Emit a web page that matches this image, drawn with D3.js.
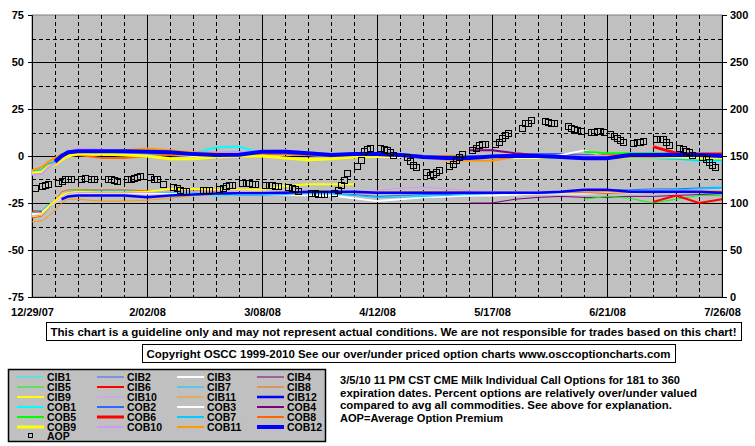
<!DOCTYPE html>
<html><head><meta charset="utf-8">
<script src="https://cdn.jsdelivr.net/npm/d3@7"></script>
<style>
body{margin:0;background:#fff}
svg text{font-family:"Liberation Sans",Arial,sans-serif;font-weight:bold;font-size:11px;fill:#000}
</style>
</head><body><svg id="c" width="755" height="446"></svg>
<script>
// ---------- DATA ----------
const startDate = new Date(2007, 11, 29);
const endDate = new Date(2008, 6, 26);
const xTickLabels = ["12/29/07","2/02/08","3/08/08","4/12/08","5/17/08","6/21/08","7/26/08"];
const leftTicks = [75,50,25,0,-25,-50,-75];
const rightTicks = [300,250,200,150,100,50,0];
// days after 12/29/07 at which the series below are sampled
const sampleDays = [0,3,5,7,9,11,14, 21,28,35,42,49,56,63, 70,77,84,91,98,105,112, 119,126,133,140,147,154,161, 168,175,182,189,196,203,210];
const n = null;
const CIB1 = [-30,-29,-26,-24,-21,-19,-18, -18,-18,-19,-19.5,-19,-21.5,-20.5, -20,-19.5,-19.5,-20,-21,-21.5,-21, -21,-20,-20,-19.5,-19.5,-19.5,-19.5, -19,-19,-18.5,-18.5,-18,-17,-16];
const CIB2 = [-31,-30,-27,-25,-22,-20,-19.5, -19.5,-19.5,-20,-20,-20,-20.5,-20.5, -20,-20,-20,-20,-20.5,-21.5,-21, -20.5,-20.5,-20,-20,-19.5,-19.5,-19, -18,-18,-18,-17.5,-17.5,-17,-17];
const CIB3 = [-31,-30,-27,-25,-22,-20,-19.5, -19.5,-19.5,-20,-20,-20,-20,-20.5, -20.5,-20.5,-21,-21,-22.5,-24,-23, -22,-21.5,-21,-21,-20.5,-20,-20, -20,-19.5,-19.5,-19,-19,-18.5,-18];
const CIB4 = [n,n,n,n,n,n,n, n,n,n,n,n,n,n, n,n,n,n,n,n,n, n,n,-25,-25,-23,-22,-21.5, -22,-22,-21.5,-21.5,-21,-20.5,-20];
const CIB5 = [n,n,n,n,n,n,n, n,n,n,n,n,n,n, n,n,n,n,n,n,n, n,n,n,n,n,n,n, -23,-21.5,-22.5,-25,-23,-21,-21];
const CIB6 = [-29.5,-29.5,n,n,n,n,n, n,n,n,n,n,n,n, n,n,n,n,n,n,n, n,n,n,n,n,n,n, n,n,n,-24.5,-21,-25,-23];
const CIB7 = [-30,-29,-26,-24,-21,-19,-18.5, -18.5,-18.5,-19,-19.5,-19.5,-20,-21, -21,-20.5,-20,-20,-21,-22,-22, -21.5,-21,-20.5,-20,-20,-20,-19.5, -19.5,-19,-19,-18.5,-18,-17.5,-17];
const CIB8 = [-33,-32,-28,-24,-19,-18,-18, -18,-18,-18.5,-18,-18,-19,-20, -19.5,-19,-19,-19,-19.5,-20,-19.5, -19,-19,-19,-19,-19,-19.5,-19.5, -19.5,-20,-19.5,-19.5,-19,-19,-19];
const CIB9 = [-32,-31,-27,-24,-21,-19.5,-19, -19.5,-19.5,-19,-17.5,-17.5,-18,-18, -18,-16,-15,-15,-15,n,n, n,n,n,n,n,n,n, n,n,n,n,n,n,n];
const CIB10 = [-32,-31.5,-28,-25,-22,-20,-19.5, -19.5,-19.5,-19.5,-19,-19,-18.5,-18.5, -19,-19,-19,-19,-19,-18.5,-17, -16.5,-17.5,-18.5,-19,-19,-19,-19, -19,-19,-19,-19,-18.5,-18,-18];
const CIB11 = [-35,-34.5,-32,-29,-25,-23,-23, -24,-24,-23.5,-22.5,-21,-20.5,-20, -20,-19.5,-19.5,-19,-19,-19,-19, -19,-19,-19.5,-19.5,-19.5,-19.5,-19, -19,-19,-19,-19,-19,-18.5,-18.5];
const CIB12 = [n,n,n,n,-23,-21.5,-21, -21,-21,-22,-21,-20.5,-20,-19.8, -19.8,-19.5,-19,-19,-19,-19.5,-19.5, -19.5,-19.5,-19.5,-19.5,-19.5,-19.5,-19, -18,-18,-19,-19,-19,-19,-19.5];
const COB1 = [-8,-7.5,-4,-3.5,-1,1,1.5, 1.5,1,1,0.5,1.5,4.5,5, 1.5,1.5,1,0,0,0.5,0, -0.5,-1,-1,-0.5,-0.5,-0.5,-1, -1,-1,-1,-1,-1.5,-2.5,-2.5];
const COB2 = [-8.5,-8,-4.5,-3.5,-1,1.5,2, 2,1.5,1.5,1.5,1,1,1, 1.5,1.5,1,0.5,0.5,1,1, 0,-0.5,0,0,0.5,1,1, 0.5,0.5,1,1,1.5,1,0.5];
const COB3 = [-9,-8.5,-5,-4,-2,0.5,1, 1,0.5,0.5,0.5,0,0,0.5, 1,1,0.5,0,-0.5,-0.5,-0.5, -1,-1,-1,-1,-1,-1,0.5, 3,-0.5,0,0,0,0,-0.5];
const COB4 = [n,n,n,n,n,n,n, n,n,n,n,n,n,n, n,n,n,n,n,n,n, n,n,3,3,1.5,0.5,0, 0,-0.5,0,0,-0.5,-0.5,-0.5];
const COB5 = [n,n,n,n,n,n,n, n,n,n,n,n,n,n, n,n,n,n,n,n,n, n,n,n,n,n,n,n, 2.2,1.5,1.5,1.5,1,1,1];
const COB6 = [n,n,n,n,n,n,n, n,n,n,n,n,n,n, n,n,n,n,n,n,n, n,n,n,n,n,n,n, n,n,n,5,1.5,1,1];
const COB7 = [-8,-7.5,-4,-3,-1,1,1.5, 1.5,1.5,1,1,0.5,1.5,2, 1.5,1,0.5,0,0,0.5,0, -0.5,-1,-0.5,-0.5,-0.5,-0.5,-0.5, -1,-1,-0.5,-1,-1.5,-2,-2];
const COB8 = [-9,-8.5,-5,-4,-2,0.5,0.5, -1,-1,0,0.5,1,1,0.5, 1,1,0.5,0,0,0,0, -0.5,0,-0.5,-0.5,-0.5,-0.5,-0.5, 0,0.5,0.5,1,0.5,0.5,0.5];
const COB9 = [-9,-8.5,-5.5,-4.5,-2,0,1, 1,0.5,0,-1.5,-1.5,-0.5,0, 0,-1,-2,-1.5,-0.5,0,0, -0.5,-1,-1,-0.5,-0.5,-0.5,-0.5, -0.5,-1,-0.5,-0.5,-0.5,-1,-1];
const COB10 = [-10,-9.5,-6,-4,-1,2,4, 3.5,2,1.5,2,2,2,2, 2.5,3,2,1,1.5,1.5,0.5, 0,-0.5,-0.5,0,0,0.5,0, 0,0,0,0.5,0.5,0.5,0];
const COB11 = [-7.5,-6,-3,-1,1,2,3, 2.5,3,4,3,2,1.5,1, 1.5,2,1.5,1,0.5,0.5,0, -0.5,-2,-2.5,-2.5,-0.5,0,0, -0.5,-1,-0.5,-0.5,0,0.5,0.5];
const COB12 = [n,n,n,-3,0,2,2.5, 2.5,2.5,2.2,2,1,0.5,0.7, 2.3,2.3,1.5,0.5,1,1,0.5, -0.5,-1,-1,-0.3,0,0,-0.5, -1.2,-1.2,0.5,0.5,0.5,0.5,0];
const seriesNames = ["CIB1","CIB2","CIB3","CIB4","CIB5","CIB6","CIB7","CIB8","CIB9","CIB10","CIB11","CIB12",
                     "COB1","COB2","COB3","COB4","COB5","COB6","COB7","COB8","COB9","COB10","COB11","COB12"];
const seriesValues = [CIB1,CIB2,CIB3,CIB4,CIB5,CIB6,CIB7,CIB8,CIB9,CIB10,CIB11,CIB12,
                      COB1,COB2,COB3,COB4,COB5,COB6,COB7,COB8,COB9,COB10,COB11,COB12];
// Average Option Premium (right axis), trading days after 12/29/07
const aopDays = [1,3,4,5, 8,9,10,11,12, 15,16,18,19, 23,24,25,26, 29,30,31,32,33, 36,37,38,40, 43,44,45,46,47, 52,53,54,
  57,58,59,60,61, 64,65,66,67,68, 71,72,73,74,75, 78,79,80,81, 85,86,87,88,89, 92,93,94,95,96, 99,100,101,102,103,
  106,107,108,109,110, 114,115,116,117, 120,121,122,123,124, 127,128,129,130,131, 134,135,136,137,138, 141,142,143,144,145,
  149,150,151,152, 156,157,158,159, 163,164,165,166,167, 170,171,172,173,174, 176,177,178,179,180, 183,184,185,186,
  190,191,192,193,194, 197,198,199,200,201, 204,205,206,207,208];
const aopValues = [116,118,119,120, 121,123,125,125,125, 126,127,126,126, 126,125,124,123, 125,126,127,128,129, 128,126,125,120, 117,116,114,113,113, 114,114,114,
  115,116,118,119,119, 121,121,121,120,120, 119,119,119,118,118, 117,116,115,113, 111,111,110,110,110, 111,114,119,124,132, 139,146,155,157,159,
  159,157,156,154,151, 149,145,140,138, 133,130,131,133,135, 139,142,146,149,152, 156,159,162,163,163, 163,165,169,172,175,
  180,185,185,188, 187,186,185,185, 182,180,179,178,177, 176,176,177,177,176, 173,171,169,167,165, 164,165,165,166,
  168,168,168,165,162, 159,157,155,154,151, 149,147,144,140,138];
const disclaimer = "This chart is a guideline only and may not represent actual conditions. We are not responsible for trades based on this chart!";
const copyright = "Copyright OSCC 1999-2010 See our over/under priced option charts www.osccoptioncharts.com";
const noteLines = ["3/5/10 11 PM CST CME Milk Individual Call Options for 181 to 360",
  "expiration dates. Percent options are relatively over/under valued",
  "compared to avg all commodities. See above for explanation.",
  "AOP=Average Option Premium"];

// ---------- STYLE ----------
const palette = ["#00ffff","#3366ff","#ffffff","#800080","#00ff00","#ff0000","#00ccff","#ff6600","#ffff00","#cc99ff","#ff9900","#0000ff"];
const cibWidth = [1,1,2,1,1,2,1,1,2,1,1,2.5];
const cobWidth = [2,2,2,2,2,3,2,2,3,2,2,4];
const colorOf = i => palette[i % 12];
const widthOf = i => i < 12 ? cibWidth[i] : cobWidth[i - 12];

// ---------- CHART ----------
const svg = d3.select("#c");
const L = 32, R = 722, T = 15, B = 297;
const x = d3.scaleTime().domain([startDate, endDate]).range([L, R]);
const yL = d3.scaleLinear().domain([-75, 75]).range([B, T]);
const yR = d3.scaleLinear().domain([0, 300]).range([B, T]);
const dayDate = d => d3.timeDay.offset(startDate, d);

svg.append("rect").attr("x", L).attr("y", T).attr("width", R - L).attr("height", B - T)
  .attr("fill", "#c0c0c0").attr("stroke", "#808080");

const grid = svg.append("g").attr("shape-rendering", "crispEdges");
for (let i = 1; i < 30; i++) {
  const xx = Math.round(x(dayDate(i * 7))) + 0.5;
  grid.append("line").attr("x1", xx).attr("x2", xx).attr("y1", T).attr("y2", B)
    .attr("stroke", "#000").attr("stroke-dasharray", i % 5 === 0 ? null : "4,3");
}
for (let v = -62.5; v <= 62.5; v += 12.5) {
  const yy = Math.round(yL(v)) + 0.5;
  grid.append("line").attr("x1", L).attr("x2", R).attr("y1", yy).attr("y2", yy)
    .attr("stroke", "#000").attr("stroke-dasharray", v % 25 === 0 ? null : "4,3");
}

// axes
const axL = svg.append("g").attr("transform", `translate(${L},0)`)
  .call(d3.axisLeft(yL).tickValues(leftTicks).tickSize(4).tickPadding(4).tickFormat(d => String(d)));
const axR = svg.append("g").attr("transform", `translate(${R},0)`)
  .call(d3.axisRight(yR).tickValues(rightTicks).tickSize(5).tickPadding(3).tickFormat(d => String(d)));
const labelDates = xTickLabels.map((t, i) => dayDate(i * 35));
const axB = svg.append("g").attr("transform", `translate(0,${B})`)
  .call(d3.axisBottom(x).tickValues(labelDates).tickSize(0).tickPadding(11).tickFormat((d, i) => xTickLabels[i]));
[axL, axR, axB].forEach(a => {
  a.selectAll("text").style("font-family", '"Liberation Sans",Arial,sans-serif').style("font-weight", "bold").style("font-size", "11px");
  a.select(".domain").attr("stroke", "#000");
  a.selectAll(".tick line").attr("stroke", "#000");
});
axB.select(".domain").remove();
svg.append("line").attr("x1", L).attr("x2", R).attr("y1", B + 0.5).attr("y2", B + 0.5).attr("stroke", "#000");

// series lines
const line = d3.line().defined(d => d.v !== null).x(d => x(d.date)).y(d => yL(d.v));
const lg = svg.append("g");
seriesValues.forEach((vals, i) => {
  const data = sampleDays.map((d, k) => ({ date: dayDate(d), v: vals[k] }));
  lg.append("path").datum(data).attr("d", line).attr("fill", "none")
    .attr("stroke", colorOf(i)).attr("stroke-width", widthOf(i)).attr("stroke-linejoin", "round");
});

// AOP squares
svg.append("g").selectAll("rect").data(aopDays.map((d, k) => ({ date: dayDate(d), v: aopValues[k] })))
  .join("rect").attr("x", d => Math.round(x(d.date)) - 2.5).attr("y", d => Math.round(yR(d.v)) - 2.5)
  .attr("width", 6).attr("height", 6).attr("fill", "none").attr("stroke", "#000").attr("stroke-width", 1);

// text boxes
function box(txt, bx, by, bw, bh, tl) {
  svg.append("rect").attr("x", bx + 0.5).attr("y", by + 0.5).attr("width", bw).attr("height", bh)
    .attr("fill", "#fff").attr("stroke", "#000");
  svg.append("text").attr("x", bx + bw / 2).attr("y", by + bh / 2 + 4.5).attr("text-anchor", "middle")
    .attr("textLength", tl).attr("lengthAdjust", "spacingAndGlyphs").text(txt);
}
box(disclaimer, 46, 322, 695, 18, 686);
box(copyright, 142, 344, 533, 18, 524);

// legend
const leg = svg.append("g");
leg.append("rect").attr("x", 8.5).attr("y", 369.5).attr("width", 317).attr("height", 72)
  .attr("fill", "#c0c0c0").attr("stroke", "#000").attr("stroke-width", 1.5);
seriesNames.forEach((nm, i) => {
  const col = i % 4, row = Math.floor(i / 4);
  const lx = 17 + col * 80, ly = 377 + row * 10;
  leg.append("line").attr("x1", lx).attr("x2", lx + 27).attr("y1", ly).attr("y2", ly)
    .attr("stroke", colorOf(i)).attr("stroke-width", widthOf(i));
  leg.append("text").attr("x", lx + 30).attr("y", ly + 4).style("font-size", "10.5px").text(nm);
});
leg.append("rect").attr("x", 28.5).attr("y", 433.5).attr("width", 4).attr("height", 4)
  .attr("fill", "none").attr("stroke", "#000");
leg.append("text").attr("x", 47).attr("y", 440).style("font-size", "10.5px").text("AOP");

// notes
const noteLen = [340, 357, 332, 163];
noteLines.forEach((t, i) => {
  svg.append("text").attr("x", 340).attr("y", 384 + i * 12.5)
    .attr("textLength", noteLen[i]).attr("lengthAdjust", "spacingAndGlyphs").text(t);
});
</script>
</body></html>
